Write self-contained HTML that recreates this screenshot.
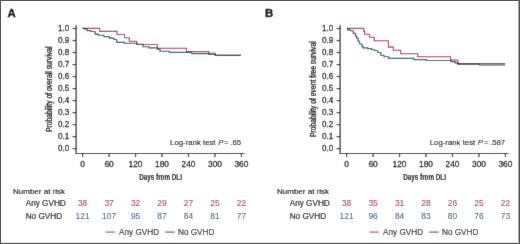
<!DOCTYPE html>
<html><head><meta charset="utf-8"><style>
html,body{margin:0;padding:0;background:#fff;}
body{width:520px;height:244px;overflow:hidden;}
svg{display:block;will-change:transform;}
text{font-family:"Liberation Sans",sans-serif;}
.lt{font-size:11.4px;font-weight:bold;fill:#000;stroke:#000;stroke-width:0.35px;}
.ax{stroke:#222;stroke-width:1.2;fill:none;}
.tk,.lr,.lab,.nr{fill:#111;stroke:#111;stroke-width:0.3px;}
.nr,.lr{stroke-width:0.18px;fill:#111;stroke:#111;}
.lr{stroke-width:0.12px;}
.lg{stroke-width:0.1px;}
.labx{font-size:9.4px;font-weight:bold;fill:#000;stroke:#000;stroke-width:0.1px;}
.laby{font-size:9.2px;fill:#000;stroke:#000;stroke-width:0.3px;}
.tk{font-size:8.8px;}
.lr{font-size:8px;}
.lab{font-size:8.6px;}
.nr{font-size:8.2px;}
.nrn{font-size:8.4px;stroke-width:0.05px;}
.cb{stroke:#22596e;stroke-width:1.15;fill:none;mix-blend-mode:multiply;}
.cr{stroke:#b0325a;stroke-width:1.1;fill:none;mix-blend-mode:multiply;}
</style></head><body>
<svg width="520" height="244" viewBox="0 0 520 244">
<defs><filter id="bl" x="0" y="0" width="100%" height="100%" filterUnits="userSpaceOnUse"><feConvolveMatrix order="3" kernelMatrix="0.0064 0.0672 0.0064 0.0672 0.7056 0.0672 0.0064 0.0672 0.0064" edgeMode="duplicate"/></filter></defs>
<g filter="url(#bl)">
<rect x="0" y="0" width="520" height="244" fill="#fff"/>
<text x="7.4" y="17" class="lt">A</text>
<path d="M76.1 25.3 V153.5 H244.5" class="ax"/>
<path d="M72.6 148.60 H76.1" class="ax"/>
<text transform="translate(69.3 151.40) scale(0.92 1)" class="tk" text-anchor="end">0.0</text>
<path d="M72.6 136.59 H76.1" class="ax"/>
<text transform="translate(69.3 139.39) scale(0.92 1)" class="tk" text-anchor="end">0.1</text>
<path d="M72.6 124.58 H76.1" class="ax"/>
<text transform="translate(69.3 127.38) scale(0.92 1)" class="tk" text-anchor="end">0.2</text>
<path d="M72.6 112.57 H76.1" class="ax"/>
<text transform="translate(69.3 115.37) scale(0.92 1)" class="tk" text-anchor="end">0.3</text>
<path d="M72.6 100.56 H76.1" class="ax"/>
<text transform="translate(69.3 103.36) scale(0.92 1)" class="tk" text-anchor="end">0.4</text>
<path d="M72.6 88.55 H76.1" class="ax"/>
<text transform="translate(69.3 91.35) scale(0.92 1)" class="tk" text-anchor="end">0.5</text>
<path d="M72.6 76.54 H76.1" class="ax"/>
<text transform="translate(69.3 79.34) scale(0.92 1)" class="tk" text-anchor="end">0.6</text>
<path d="M72.6 64.53 H76.1" class="ax"/>
<text transform="translate(69.3 67.33) scale(0.92 1)" class="tk" text-anchor="end">0.7</text>
<path d="M72.6 52.52 H76.1" class="ax"/>
<text transform="translate(69.3 55.32) scale(0.92 1)" class="tk" text-anchor="end">0.8</text>
<path d="M72.6 40.51 H76.1" class="ax"/>
<text transform="translate(69.3 43.31) scale(0.92 1)" class="tk" text-anchor="end">0.9</text>
<path d="M72.6 28.50 H76.1" class="ax"/>
<text transform="translate(69.3 31.30) scale(0.92 1)" class="tk" text-anchor="end">1.0</text>
<path d="M82.60 153.5 V157" class="ax"/>
<text transform="translate(82.60 167.0) scale(0.95 1)" class="tk" text-anchor="middle">0</text>
<path d="M109.07 153.5 V157" class="ax"/>
<text transform="translate(109.07 167.0) scale(0.95 1)" class="tk" text-anchor="middle">60</text>
<path d="M135.54 153.5 V157" class="ax"/>
<text transform="translate(135.54 167.0) scale(0.95 1)" class="tk" text-anchor="middle">120</text>
<path d="M162.01 153.5 V157" class="ax"/>
<text transform="translate(162.01 167.0) scale(0.95 1)" class="tk" text-anchor="middle">180</text>
<path d="M188.48 153.5 V157" class="ax"/>
<text transform="translate(188.48 167.0) scale(0.95 1)" class="tk" text-anchor="middle">240</text>
<path d="M214.95 153.5 V157" class="ax"/>
<text transform="translate(214.95 167.0) scale(0.95 1)" class="tk" text-anchor="middle">300</text>
<path d="M241.42 153.5 V157" class="ax"/>
<text transform="translate(241.42 167.0) scale(0.95 1)" class="tk" text-anchor="middle">360</text>
<text transform="translate(160.6 180.3) scale(0.67 1)" class="labx" text-anchor="middle">Days from DLI</text>
<text transform="translate(51.9 89.2) rotate(-90) scale(0.735 1)" class="laby" text-anchor="middle">Probability of overall survival</text>
<text transform="translate(241.2 145.4) scale(0.975 1)" class="lr" text-anchor="end">Log-rank test <tspan font-style="italic" dx="0.5">P</tspan><tspan dx="0.6">=</tspan><tspan dx="1.9">.65</tspan></text>
<path d="M82.6 28.4 H84.0 V28.9 H87.0 V30.6 H91.0 V31.5 H95.0 V33.8 H97.0 V34.3 H98.5 V35.2 H103.5 V35.5 H104.0 V36.6 H108.5 V36.6 H109.5 V38.1 H112.5 V38.3 H114.0 V39.5 H116.5 V41.6 H117.5 V42.4 H124.4 V43.2 H136.6 V44.2 H143.0 V46.7 H149.0 V47.8 H157.3 V49.2 H160.0 V51.2 H169.5 V52.4 H191.7 V53.6 H208.8 V54.5 H215.2 V55.2 H241.0 V55.2" class="cb"/>
<path d="M82.6 28.4 H99.6 V31.4 H117.0 V34.5 H124.5 V37.8 H129.3 V41.3 H136.7 V44.5 H157.3 V48.2 H186.5 V51.6 H208.8 V53.2 H215.2 V55.2 H241.0 V55.2" class="cr"/>
<text x="13" y="194" class="nr" style="font-size:8px">Number at risk</text>
<text x="25.7" y="206.4" class="nr">Any GVHD</text>
<text x="25.7" y="218.6" class="nr">No GVHD</text>
<text x="82.60" y="205.9" class="nrn" style="fill:#b02448;stroke:#b02448" text-anchor="middle">38</text>
<text x="82.60" y="218.8" class="nrn" style="fill:#2d5d84;stroke:#2d5d84" text-anchor="middle">121</text>
<text x="109.07" y="205.9" class="nrn" style="fill:#b02448;stroke:#b02448" text-anchor="middle">37</text>
<text x="109.07" y="218.8" class="nrn" style="fill:#2d5d84;stroke:#2d5d84" text-anchor="middle">107</text>
<text x="135.54" y="205.9" class="nrn" style="fill:#b02448;stroke:#b02448" text-anchor="middle">32</text>
<text x="135.54" y="218.8" class="nrn" style="fill:#2d5d84;stroke:#2d5d84" text-anchor="middle">95</text>
<text x="162.01" y="205.9" class="nrn" style="fill:#b02448;stroke:#b02448" text-anchor="middle">29</text>
<text x="162.01" y="218.8" class="nrn" style="fill:#2d5d84;stroke:#2d5d84" text-anchor="middle">87</text>
<text x="188.48" y="205.9" class="nrn" style="fill:#b02448;stroke:#b02448" text-anchor="middle">27</text>
<text x="188.48" y="218.8" class="nrn" style="fill:#2d5d84;stroke:#2d5d84" text-anchor="middle">84</text>
<text x="214.95" y="205.9" class="nrn" style="fill:#b02448;stroke:#b02448" text-anchor="middle">25</text>
<text x="214.95" y="218.8" class="nrn" style="fill:#2d5d84;stroke:#2d5d84" text-anchor="middle">81</text>
<text x="241.42" y="205.9" class="nrn" style="fill:#b02448;stroke:#b02448" text-anchor="middle">22</text>
<text x="241.42" y="218.8" class="nrn" style="fill:#2d5d84;stroke:#2d5d84" text-anchor="middle">77</text>
<path d="M105.5 232.1 H115" stroke="#b0325a" stroke-width="1.05"/>
<text x="119" y="234.9" class="nr lg">Any GVHD</text>
<path d="M165.2 232.1 H174.6" stroke="#22596e" stroke-width="1.05"/>
<text x="178" y="234.9" class="nr lg">No GVHD</text>
<text x="265.0" y="17" class="lt">B</text>
<path d="M340.1 25.3 V153.5 H508.5" class="ax"/>
<path d="M336.6 148.60 H340.1" class="ax"/>
<text transform="translate(333.3 151.40) scale(0.92 1)" class="tk" text-anchor="end">0.0</text>
<path d="M336.6 136.59 H340.1" class="ax"/>
<text transform="translate(333.3 139.39) scale(0.92 1)" class="tk" text-anchor="end">0.1</text>
<path d="M336.6 124.58 H340.1" class="ax"/>
<text transform="translate(333.3 127.38) scale(0.92 1)" class="tk" text-anchor="end">0.2</text>
<path d="M336.6 112.57 H340.1" class="ax"/>
<text transform="translate(333.3 115.37) scale(0.92 1)" class="tk" text-anchor="end">0.3</text>
<path d="M336.6 100.56 H340.1" class="ax"/>
<text transform="translate(333.3 103.36) scale(0.92 1)" class="tk" text-anchor="end">0.4</text>
<path d="M336.6 88.55 H340.1" class="ax"/>
<text transform="translate(333.3 91.35) scale(0.92 1)" class="tk" text-anchor="end">0.5</text>
<path d="M336.6 76.54 H340.1" class="ax"/>
<text transform="translate(333.3 79.34) scale(0.92 1)" class="tk" text-anchor="end">0.6</text>
<path d="M336.6 64.53 H340.1" class="ax"/>
<text transform="translate(333.3 67.33) scale(0.92 1)" class="tk" text-anchor="end">0.7</text>
<path d="M336.6 52.52 H340.1" class="ax"/>
<text transform="translate(333.3 55.32) scale(0.92 1)" class="tk" text-anchor="end">0.8</text>
<path d="M336.6 40.51 H340.1" class="ax"/>
<text transform="translate(333.3 43.31) scale(0.92 1)" class="tk" text-anchor="end">0.9</text>
<path d="M336.6 28.50 H340.1" class="ax"/>
<text transform="translate(333.3 31.30) scale(0.92 1)" class="tk" text-anchor="end">1.0</text>
<path d="M346.60 153.5 V157" class="ax"/>
<text transform="translate(346.60 167.0) scale(0.95 1)" class="tk" text-anchor="middle">0</text>
<path d="M373.07 153.5 V157" class="ax"/>
<text transform="translate(373.07 167.0) scale(0.95 1)" class="tk" text-anchor="middle">60</text>
<path d="M399.54 153.5 V157" class="ax"/>
<text transform="translate(399.54 167.0) scale(0.95 1)" class="tk" text-anchor="middle">120</text>
<path d="M426.01 153.5 V157" class="ax"/>
<text transform="translate(426.01 167.0) scale(0.95 1)" class="tk" text-anchor="middle">180</text>
<path d="M452.48 153.5 V157" class="ax"/>
<text transform="translate(452.48 167.0) scale(0.95 1)" class="tk" text-anchor="middle">240</text>
<path d="M478.95 153.5 V157" class="ax"/>
<text transform="translate(478.95 167.0) scale(0.95 1)" class="tk" text-anchor="middle">300</text>
<path d="M505.42 153.5 V157" class="ax"/>
<text transform="translate(505.42 167.0) scale(0.95 1)" class="tk" text-anchor="middle">360</text>
<text transform="translate(424.6 180.3) scale(0.67 1)" class="labx" text-anchor="middle">Days from DLI</text>
<text transform="translate(315.9 89.2) rotate(-90) scale(0.735 1)" class="laby" text-anchor="middle">Probability of event free survival</text>
<text transform="translate(505.2 145.4) scale(0.975 1)" class="lr" text-anchor="end">Log-rank test <tspan font-style="italic" dx="0.5">P</tspan><tspan dx="0.6">=</tspan><tspan dx="1.9">.587</tspan></text>
<path d="M347.0 28.4 H347.5 V29.9 H350.2 V30.7 H353.3 V33.4 H355.3 V35.8 H356.5 V38.1 H358.0 V41.2 H359.6 V44.0 H361.9 V46.3 H363.0 V47.8 H367.7 V48.6 H371.6 V49.7 H374.7 V50.5 H377.8 V52.5 H380.9 V55.2 H384.0 V56.7 H388.7 V58.3 H413.8 V59.6 H426.2 V60.5 H450.4 V60.5 H451.0 V61.6 H455.0 V62.8 H458.0 V64.2 H479.5 V65.0 H505.2 V65.0" class="cb"/>
<path d="M347.0 28.4 H363.7 V31.4 H364.7 V34.3 H369.6 V37.3 H374.2 V40.8 H388.4 V47.1 H393.3 V50.2 H400.6 V53.7 H417.7 V56.7 H450.5 V60.0 H457.8 V63.6 H505.2 V63.6" class="cr"/>
<text x="277" y="194" class="nr" style="font-size:8px">Number at risk</text>
<text x="289.7" y="206.4" class="nr">Any GVHD</text>
<text x="289.7" y="218.6" class="nr">No GVHD</text>
<text x="346.60" y="205.9" class="nrn" style="fill:#b02448;stroke:#b02448" text-anchor="middle">38</text>
<text x="346.60" y="218.8" class="nrn" style="fill:#2d5d84;stroke:#2d5d84" text-anchor="middle">121</text>
<text x="373.07" y="205.9" class="nrn" style="fill:#b02448;stroke:#b02448" text-anchor="middle">35</text>
<text x="373.07" y="218.8" class="nrn" style="fill:#2d5d84;stroke:#2d5d84" text-anchor="middle">96</text>
<text x="399.54" y="205.9" class="nrn" style="fill:#b02448;stroke:#b02448" text-anchor="middle">31</text>
<text x="399.54" y="218.8" class="nrn" style="fill:#2d5d84;stroke:#2d5d84" text-anchor="middle">84</text>
<text x="426.01" y="205.9" class="nrn" style="fill:#b02448;stroke:#b02448" text-anchor="middle">28</text>
<text x="426.01" y="218.8" class="nrn" style="fill:#2d5d84;stroke:#2d5d84" text-anchor="middle">83</text>
<text x="452.48" y="205.9" class="nrn" style="fill:#b02448;stroke:#b02448" text-anchor="middle">26</text>
<text x="452.48" y="218.8" class="nrn" style="fill:#2d5d84;stroke:#2d5d84" text-anchor="middle">80</text>
<text x="478.95" y="205.9" class="nrn" style="fill:#b02448;stroke:#b02448" text-anchor="middle">25</text>
<text x="478.95" y="218.8" class="nrn" style="fill:#2d5d84;stroke:#2d5d84" text-anchor="middle">76</text>
<text x="505.42" y="205.9" class="nrn" style="fill:#b02448;stroke:#b02448" text-anchor="middle">22</text>
<text x="505.42" y="218.8" class="nrn" style="fill:#2d5d84;stroke:#2d5d84" text-anchor="middle">73</text>
<path d="M369.5 232.1 H379" stroke="#b0325a" stroke-width="1.05"/>
<text x="383" y="234.9" class="nr lg">Any GVHD</text>
<path d="M429.2 232.1 H438.6" stroke="#22596e" stroke-width="1.05"/>
<text x="442" y="234.9" class="nr lg">No GVHD</text>
</g>
<rect x="518" y="0" width="1" height="244" fill="#a8a8a8"/>
<rect x="0" y="242" width="520" height="1" fill="#e0e0e0"/>
<rect x="0" y="0" width="520" height="1" fill="#555"/>
<rect x="0" y="0" width="1" height="244" fill="#555"/>
<rect x="519" y="0" width="1" height="244" fill="#555"/>
<rect x="0" y="243" width="520" height="1" fill="#5a5a5a"/>
</svg>
</body></html>
